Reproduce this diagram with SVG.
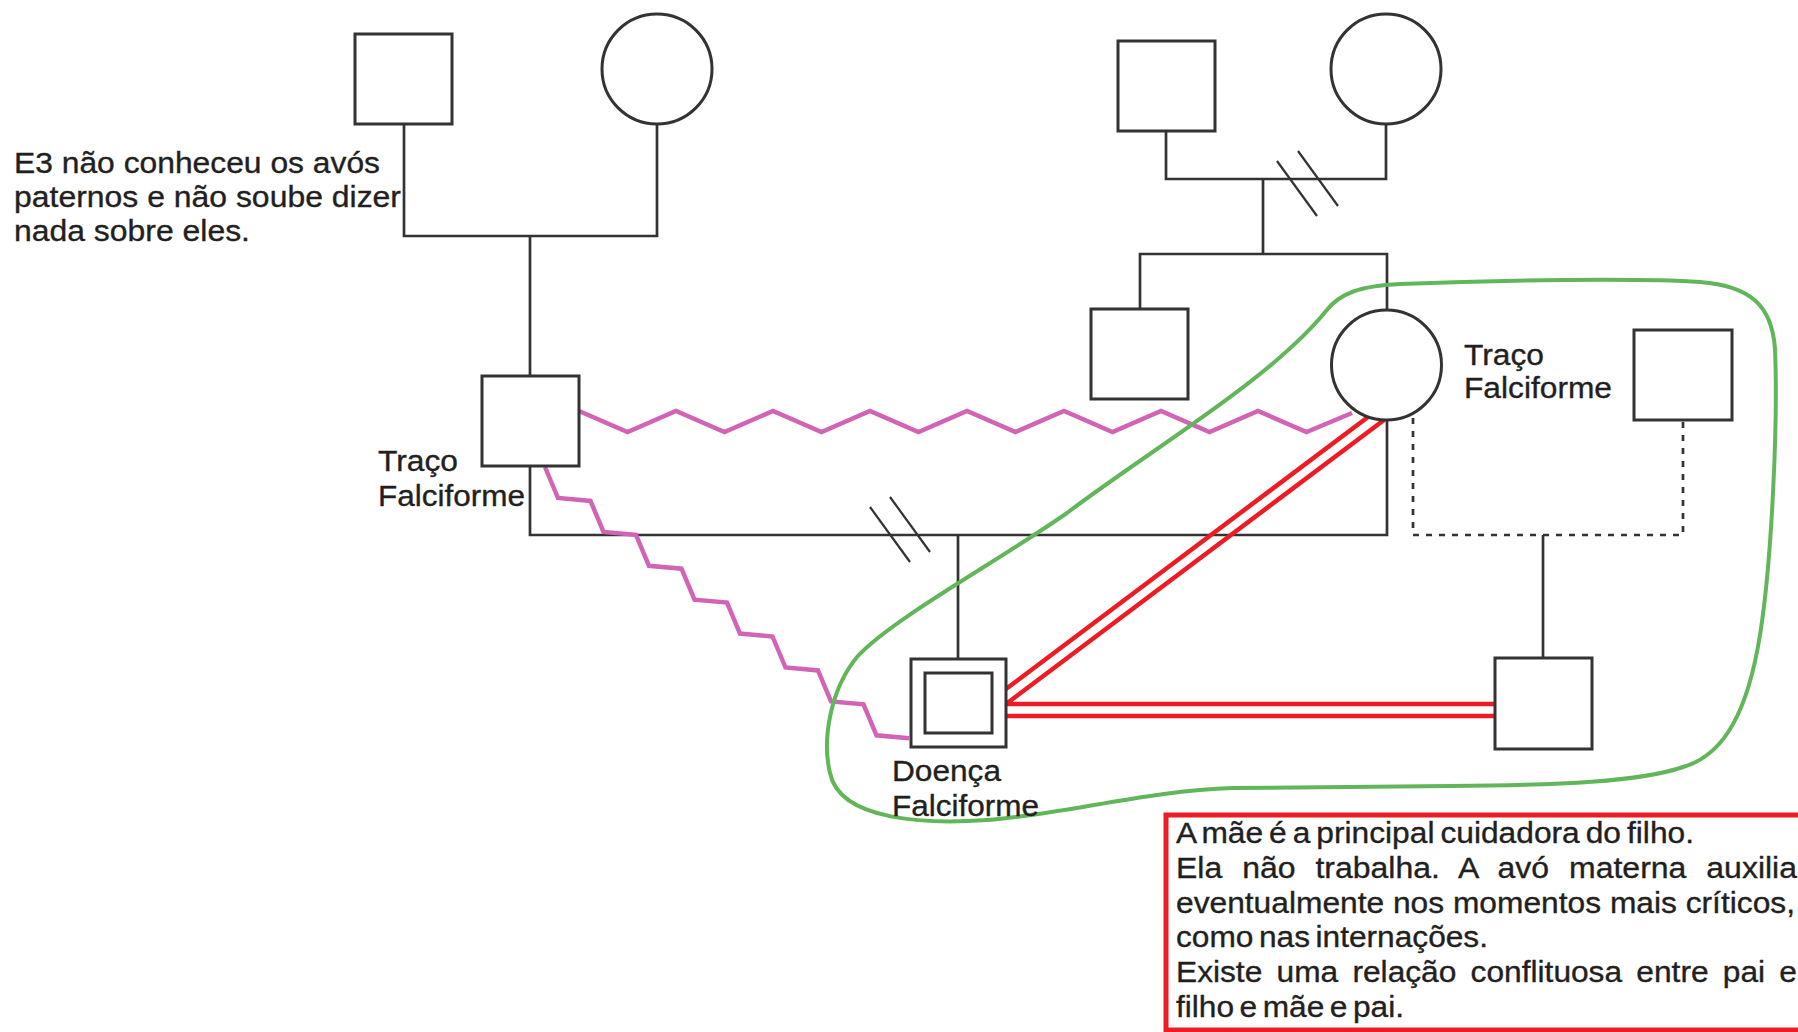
<svg xmlns="http://www.w3.org/2000/svg" width="1798" height="1032" viewBox="0 0 1798 1032">
  <style>
    .ln { fill: none; stroke: #333; stroke-width: 2.7; }
    .dot { stroke-dasharray: 6 7; }
    .slash { stroke: #333; stroke-width: 2.2; }
    .node { fill: #fff; stroke: #333; stroke-width: 3; }
    .pink { fill: none; stroke: #d264b6; stroke-width: 4.5; stroke-linejoin: miter; }
    .red { fill: none; stroke: #ed1c24; stroke-width: 4.5; stroke-linejoin: miter; }
    .green { fill: none; stroke: #62b65a; stroke-width: 4; }
    .t { font-family: "Liberation Sans", Arial, sans-serif; font-size: 29px; fill: #231f20; stroke: #231f20; stroke-width: 0.35; }
    .box { fill: #fff; stroke: #ed1c24; stroke-width: 5; }
  </style>

  <rect width="1798" height="1032" fill="#fff"/>

  <!-- genealogical lines and relationship connectors -->
  <g id="connectors">
    <!-- paternal grandparents -->
    <path class="ln" d="M404,124 V236 H657 V124"/>
    <path class="ln" d="M530,236 V376"/>
    <!-- maternal grandparents (separated) -->
    <path class="ln" d="M1166,131 V179 H1386 V124"/>
    <line class="slash" x1="1277" y1="161" x2="1317" y2="216"/>
    <line class="slash" x1="1298" y1="151" x2="1338" y2="206"/>
    <path class="ln" d="M1263,179 V254"/>
    <path class="ln" d="M1140,309 V254 H1387 V310"/>
    <!-- parents (separated) -->
    <path class="ln" d="M530,466 V535 H1387 V420"/>
    <line class="slash" x1="870" y1="507" x2="910" y2="562"/>
    <line class="slash" x1="890" y1="497" x2="930" y2="552"/>
    <path class="ln" d="M958,535 V659"/>
    <!-- mother and current partner -->
    <path class="ln dot" d="M1413,418 V535 H1683 V421"/>
    <path class="ln" d="M1543,535 V658"/>

    <!-- hostile relationships -->
    <polyline class="pink" points="579,411 627.5,432 676,411 724.5,432 773,411 821.5,432 870,411 918.5,432 967,411 1015.5,432 1064,411 1112.5,432 1161,411 1209.5,432 1258,411 1306.5,432 1352,413"/>
    <polyline class="pink" points="545,467 558,498 590.5,500.9 603.5,531.9 636,534.8 649,565.8 681.5,568.7 694.5,599.7 727,602.6 740,633.6 772.5,636.5 785.5,667.5 818,670.4 831,701.4 863.5,704.3 876.5,735.3 909,738.2"/>

    <!-- close relationships -->
    <polyline class="red" points="1368,417 1006,689"/>
    <polyline class="red" points="1384,420 1006,704 1495,704"/>
    <polyline class="red" points="1006,716 1495,716"/>
  </g>

  <!-- household boundary -->
  <path id="household" class="green" d="M1326,311 C1340,293 1360,286 1400,284 C1500,280 1640,278 1700,282 C1750,286 1772,305 1775,349 C1778,420 1772,560 1760,635 C1748,710 1725,755 1683,767 C1640,782 1560,785 1450,786 C1350,787 1280,787 1233,788 C1150,790 1060,815 987,820 C930,824 840,822 830,773 C822,740 830,690 857,657 C890,620 1000,560 1067,513 C1150,450 1270,380 1326,311 Z"/>

  <!-- people -->
  <g id="paternal-grandfather"><rect class="node" x="355" y="34" width="97" height="90"/></g>
  <g id="paternal-grandmother"><circle class="node" cx="657" cy="69" r="55"/></g>
  <g id="maternal-grandfather"><rect class="node" x="1118" y="41" width="97" height="90"/></g>
  <g id="maternal-grandmother"><circle class="node" cx="1386" cy="69" r="55"/></g>
  <g id="uncle"><rect class="node" x="1091" y="309" width="97" height="90"/></g>
  <g id="father">
    <rect class="node" x="482" y="376" width="97" height="90"/>
    <text class="t" x="378" y="471" textLength="80" lengthAdjust="spacingAndGlyphs">Traço</text>
    <text class="t" x="378" y="506" textLength="147" lengthAdjust="spacingAndGlyphs">Falciforme</text>
  </g>
  <g id="mother">
    <circle class="node" cx="1386.5" cy="365" r="55"/>
    <text class="t" x="1464" y="365" textLength="80" lengthAdjust="spacingAndGlyphs">Traço</text>
    <text class="t" x="1464" y="398" textLength="148" lengthAdjust="spacingAndGlyphs">Falciforme</text>
  </g>
  <g id="partner"><rect class="node" x="1634" y="330" width="98" height="90"/></g>
  <g id="index-child">
    <rect class="node" x="911" y="659" width="95" height="88"/>
    <rect class="node" x="925" y="673" width="67" height="60"/>
    <text class="t" x="892" y="781" textLength="109" lengthAdjust="spacingAndGlyphs">Doença</text>
    <text class="t" x="892" y="816" textLength="147" lengthAdjust="spacingAndGlyphs">Falciforme</text>
  </g>
  <g id="half-brother"><rect class="node" x="1495" y="658" width="97" height="91"/></g>

  <!-- notes -->
  <g id="note-paternal">
    <text class="t" x="14" y="173" textLength="366" lengthAdjust="spacingAndGlyphs">E3 não conheceu os avós</text>
    <text class="t" x="14" y="207" textLength="387" lengthAdjust="spacingAndGlyphs">paternos e não soube dizer</text>
    <text class="t" x="14" y="241" textLength="236" lengthAdjust="spacingAndGlyphs">nada sobre eles.</text>
  </g>
  <g id="note-care">
    <rect class="box" x="1166" y="815" width="700" height="215"/>
    <text class="t" x="1176" y="843" word-spacing="-2.6" textLength="518" lengthAdjust="spacingAndGlyphs">A mãe é a principal cuidadora do filho.</text>
    <text class="t" x="1176" y="878" word-spacing="10" textLength="621" lengthAdjust="spacingAndGlyphs">Ela não trabalha. A avó materna auxilia</text>
    <text class="t" x="1176" y="913" textLength="619" lengthAdjust="spacingAndGlyphs">eventualmente nos momentos mais críticos,</text>
    <text class="t" x="1176" y="947" word-spacing="-3" textLength="312" lengthAdjust="spacingAndGlyphs">como nas internações.</text>
    <text class="t" x="1176" y="982" word-spacing="5" textLength="621" lengthAdjust="spacingAndGlyphs">Existe uma relação conflituosa entre pai e</text>
    <text class="t" x="1176" y="1017" word-spacing="-3" textLength="228" lengthAdjust="spacingAndGlyphs">filho e mãe e pai.</text>
  </g>
</svg>
